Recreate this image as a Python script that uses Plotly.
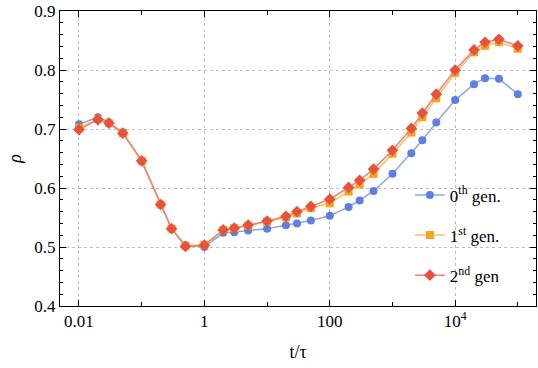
import plotly.graph_objects as go

# время t/tau
t = [0.01, 0.02, 0.03, 0.05, 0.1, 0.2, 0.3, 0.5, 1, 2, 3, 5, 10, 20, 30, 50,
     100, 200, 300, 500, 1000, 2000, 3000, 5000, 1e4, 2e4, 3e4, 5e4, 1e5]

# rho по поколениям
rho_gen0 = [0.708, 0.720, 0.711, 0.694, 0.646, 0.572, 0.531, 0.503, 0.500,
            0.524, 0.525, 0.528, 0.531, 0.537, 0.540, 0.545, 0.553, 0.568,
            0.579, 0.595, 0.624, 0.659, 0.681, 0.711, 0.749, 0.776, 0.786,
            0.785, 0.759]
rho_gen1 = [0.702, 0.717, 0.710, 0.693, 0.646, 0.572, 0.531, 0.502, 0.504,
            0.529, 0.532, 0.536, 0.543, 0.550, 0.557, 0.566, 0.574, 0.594,
            0.606, 0.624, 0.658, 0.694, 0.720, 0.752, 0.795, 0.830, 0.841,
            0.847, 0.836]
rho_gen2 = [0.699, 0.716, 0.710, 0.693, 0.646, 0.572, 0.531, 0.501, 0.503,
            0.529, 0.532, 0.537, 0.544, 0.552, 0.560, 0.569, 0.581, 0.601,
            0.613, 0.632, 0.664, 0.701, 0.727, 0.759, 0.800, 0.834, 0.847,
            0.852, 0.841]

names = ["0<sup>th</sup> gen.", "1<sup>st</sup> gen.", "2<sup>nd</sup> gen"]

x_ticks = [0.01, 1, 100, 1e4]
x_ticktext = ["0.01", "1", "100", "10<sup>4</sup>"]
x_minor = [0.1, 10, 1000, 1e5]

font = "Times New Roman, Liberation Serif, DejaVu Serif, serif"

fig = go.Figure()

styles = [
    ("rgb(92,127,228)", "rgb(140,165,235)", "circle", 8),
    ("rgb(250,162,30)", "rgb(252,190,100)", "square", 8),
    ("rgb(232,82,58)", "rgb(240,130,110)", "diamond", 9),
]

for i, (ys, name) in enumerate(zip([rho_gen0, rho_gen1, rho_gen2], names)):
    mc, lc, sym, sz = styles[i]
    fig.add_trace(go.Scatter(
        x=t, y=ys, name=name, mode="lines+markers",
        legendgroup=str(i),
        line=dict(color=lc, width=1.5),
        marker=dict(color=mc, symbol=sym, size=sz, line=dict(width=0))
    ))

fig.update_layout(
    width=538, height=368,
    margin=dict(l=60, r=2, t=11, b=62),
    paper_bgcolor="white", plot_bgcolor="white",
    font=dict(family=font, size=17, color="black"),
    showlegend=True,
    legend=dict(
        x=0.735, y=0.436, xanchor="left", yanchor="top",
        bgcolor="rgba(0,0,0,0)", tracegroupgap=15,
        font=dict(family=font, size=17)
    )
)

fig.update_xaxes(
    type="log", range=[-2.303, 5.29], automargin=False,
    tickvals=x_ticks, ticktext=x_ticktext,
    tickfont=dict(family=font, size=17),
    ticks="inside", ticklen=6, tickcolor="black",
    showline=True, linecolor="black", linewidth=1, mirror="allticks",
    showgrid=True, gridcolor="rgb(190,190,190)", griddash="dot", gridwidth=1,
    minor=dict(tickvals=x_minor, ticks="inside", ticklen=4,
               tickcolor="black", showgrid=False),
    zeroline=False,
    title=dict(text="t/τ", font=dict(family=font, size=18), standoff=14),
)

fig.update_yaxes(
    range=[0.4, 0.9], dtick=0.1, tick0=0.4, tickformat=".1f", automargin=False,
    tickfont=dict(family=font, size=17),
    ticks="inside", ticklen=6, tickcolor="black",
    showline=True, linecolor="black", linewidth=1, mirror="allticks",
    showgrid=True, gridcolor="rgb(190,190,190)", griddash="dot", gridwidth=1,
    minor=dict(dtick=0.02, tick0=0.4, ticks="inside", ticklen=3,
               tickcolor="black", showgrid=False),
    zeroline=False,
    title=dict(text="<i>ρ</i>", font=dict(family=font, size=18), standoff=8),
)

# убрать отступ body, чтобы график стоял в углу окна
fig.write_html("out.html", config={"displayModeBar": False},
               post_script="document.body.style.margin='0px';")
